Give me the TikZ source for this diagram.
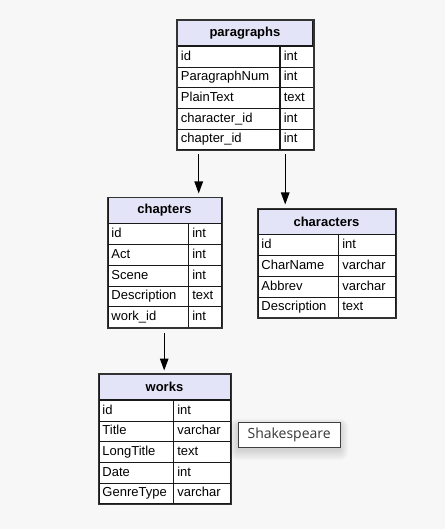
\documentclass[tikz,border=0pt]{standalone}
\usepackage{fontspec}
\setmainfont{Liberation Sans}
\newfontfamily\lblfont{Open Sans}
\usetikzlibrary{arrows.meta,calc}
\definecolor{bgc}{RGB}{247,247,247}
\definecolor{hdrfill}{RGB}{228,228,248}
\definecolor{lblgray}{RGB}{55,55,55}
\tikzset{
  hdr/.style={draw=black!90, line width=0.9pt, fill=hdrfill, minimum height=25pt, inner sep=0pt,
    anchor=north west, font=\fontsize{13}{15}\selectfont\bfseries},
  cell/.style={draw=black!90, line width=0.9pt, fill=white, minimum height=20.7pt, inner xsep=3.5pt,
    inner ysep=0pt, anchor=north west, align=left, text height=9.6pt, text depth=2.8pt,
    font=\fontsize{13}{15}\selectfont},
  frame/.style={draw=black!80, line width=1.5pt},
  arr/.style={-{Triangle[length=12pt,width=8.5pt]}, line width=1.2pt, black,
    shorten <=4pt, shorten >=4pt},
  lbl/.style={draw=black!75, line width=0.8pt, fill=white, minimum width=101.5pt, minimum height=24.5pt,
    inner sep=0pt, anchor=north west, font=\lblfont\fontsize{14}{16}\selectfont, text=lblgray}
}
% #1 name, #2 x, #3 y, #4 w1, #5 w2, #6 title, #7 number of rows, #8 rows
\newcommand\dbtab[8]{%
  \pgfmathsetmacro\wall{#4+#5}%
  \pgfmathsetmacro\wka{#4-7}%
  \pgfmathsetmacro\wkb{#5-7}%
  \node[hdr, minimum width=\wall pt] (#1) at (#2,#3) {#6};
  \foreach[count=\i] \f/\t in {#8}{%
    \node[cell, minimum width=#4pt, text width=\wka pt] (#1-k\i) at ($(#1.south west)+(0,{(\i-1)*20.7})$) {\f};
    \node[cell, minimum width=#5pt, text width=\wkb pt] (#1-t\i) at (#1-k\i.north east) {\t};
  }%
  \draw[frame] (#1.north west) rectangle (#1-t#7.south east);
}
\begin{document}
\begin{tikzpicture}[x=1pt,y=-1pt]
\fill[bgc] (0,0) rectangle (445,529);
\useasboundingbox (0,0) rectangle (445,529);

\dbtab{par}{177}{20}{102}{33}{paragraphs}{5}{id/int, ParagraphNum/int, PlainText/text, character\_id/int, chapter\_id/int}
\dbtab{chap}{107.5}{197.5}{80}{33}{chapters}{5}{id/int, Act/int, Scene/int, Description/text, work\_id/int}
\dbtab{char}{257.5}{208.5}{80}{57}{characters}{4}{id/int, CharName/varchar, Abbrev/varchar, Description/text}
\dbtab{works}{98.5}{374}{74}{57}{works}{5}{id/int, Title/varchar, LongTitle/text, Date/int, GenreType/varchar}

\coordinate (xa) at (198.7,0);
\coordinate (xb) at (285.2,0);
\coordinate (xc) at (164.2,0);
\draw[arr] (xa |- par-k5.south) -- (xa |- chap.north);
\draw[arr] (xb |- par-t5.south) -- (xb |- char.north);
\draw[arr, shorten <=5.5pt, shorten >=3.5pt] (xc |- chap-k5.south) -- (xc |- works.north);

% soft shadow of the label
\foreach \s in {1,...,9}{
  \fill[black, opacity=0.016, rounded corners=\s pt] (238-\s*1.0,423+2-\s*0.7) rectangle (339.5+\s*1.0,446.5+3+\s*1.2);
}
\node[lbl] (shk) at (238,422) {Shakespeare};
\end{tikzpicture}
\end{document}
